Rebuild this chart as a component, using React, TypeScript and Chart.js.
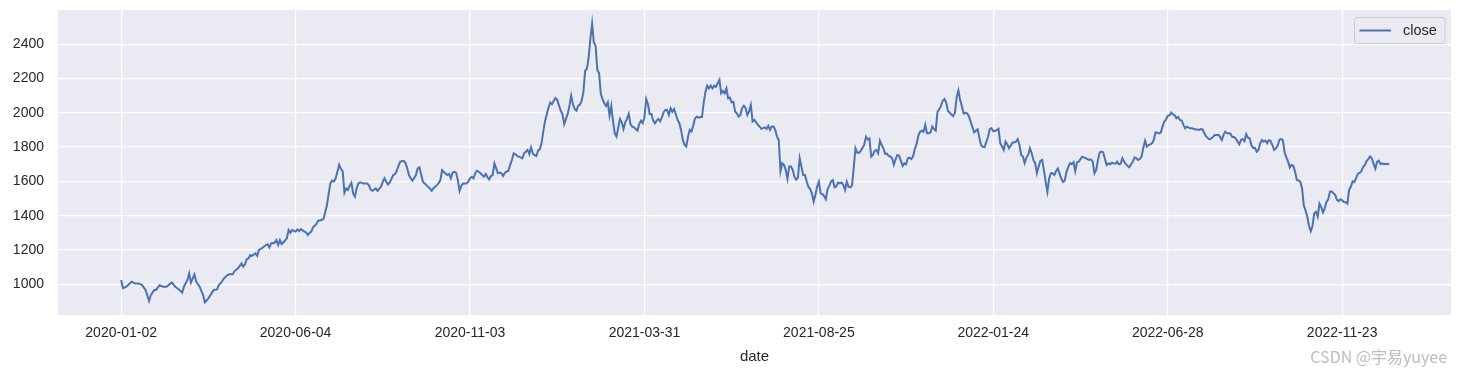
import React, { useEffect, useRef } from "react";
import { Chart, registerables } from "chart.js";

Chart.register(...registerables);

// Trading-day index (0 = 2020-01-02) and close price (early, sparse part)
const earlyDay = [
  0, 1, 3, 6, 8, 10, 12, 14, 16, 17, 19, 20, 22, 24, 26, 29, 31, 33, 35, 36,
  38, 39, 40, 42, 43, 45, 47, 48, 50, 52, 53, 55, 56, 57, 59, 61,
  62, 64, 65, 67, 69, 70, 71, 72, 73, 74, 75, 77, 78, 79, 81, 83, 84, 85, 86, 88,
  89, 90, 91, 92, 93, 95, 96, 97, 98, 100, 101, 102, 103, 105, 106, 107, 108, 109, 110, 112,
  113, 115, 116, 117, 118, 119, 120, 121, 122,
  123, 125, 126, 127, 128, 129, 130, 131, 132, 133, 134, 135, 136, 137, 139, 141, 142, 143, 144, 146,
  147, 149, 150, 151, 152, 153, 154, 156, 157, 158, 159, 160, 162, 163, 164, 165, 166, 167, 169, 170,
  171, 172, 173, 174, 175, 177, 178, 179, 181, 182, 183, 184, 185, 187,
  188, 189, 190, 191, 192, 193, 194, 195, 196, 198, 199, 200, 201, 202, 203, 204, 205, 206, 208, 209,
  210, 211, 212, 213, 214, 215, 216, 217, 218, 219, 220, 222, 223, 224, 225, 226, 227, 229, 230, 231,
  233, 234, 235, 236, 237, 238, 239, 240, 241, 242, 243, 244, 245, 246, 247, 248,
  249, 250, 252, 253, 254, 255, 256, 257, 258, 259, 260, 261, 262, 263, 264, 265, 266, 267, 268, 269,
  270, 271, 272, 273, 274, 275, 276, 277, 278, 279, 280, 281, 282, 283, 284, 285, 286, 287, 288, 289,
  290, 291, 292, 293, 294, 295, 296, 297, 298, 299, 300, 301, 302, 303, 304, 305, 306, 307, 308, 309,
  310, 311, 312, 313,
];
const earlyClose = [
  1025, 977, 986, 1015, 1005, 1005, 995, 967, 903, 937, 967, 967, 995, 986, 986, 1011, 986, 971, 951, 986,
  1025, 1064, 1010, 1058, 1016, 986, 937, 895, 918, 950, 967, 970, 995, 1005, 1035, 1054,
  1058, 1058, 1077, 1093, 1122, 1103, 1117, 1147, 1151, 1171, 1166, 1180, 1166, 1200, 1213, 1229, 1233, 1215, 1238, 1242,
  1258, 1229, 1258, 1235, 1244, 1268, 1316, 1301, 1316, 1307, 1320, 1310, 1322, 1307, 1303, 1287, 1299, 1307, 1332, 1352,
  1371, 1375, 1381, 1420, 1462, 1530, 1590, 1605, 1600,
  1618, 1697, 1672, 1660, 1534, 1559, 1550, 1575, 1592, 1530, 1511, 1559, 1588, 1594, 1588, 1588, 1578, 1553, 1545, 1559,
  1545, 1569, 1598, 1618, 1598, 1582, 1594, 1637, 1643, 1662, 1690, 1715, 1719, 1709, 1676, 1637, 1618, 1604, 1637, 1676,
  1682, 1640, 1598, 1588, 1578, 1559, 1545, 1559, 1578, 1590, 1607, 1666, 1655, 1637,
  1643, 1618, 1651, 1656, 1651, 1608, 1544, 1573, 1588, 1588, 1598, 1618, 1627, 1618, 1647, 1662, 1656, 1647, 1627, 1643,
  1625, 1612, 1631, 1637, 1705, 1676, 1647, 1651, 1647, 1631, 1651, 1662, 1695, 1724, 1763, 1759, 1748, 1740, 1734, 1763,
  1783, 1759, 1798, 1763, 1753, 1748, 1779, 1787, 1822, 1890, 1950, 1990, 2030, 2060, 2050, 2070,
  2085, 2075, 2012, 1993, 1934, 1964, 1993, 2040, 2100, 2050, 2022, 2012, 2041, 2047, 2071, 2119, 2245, 2255, 2320, 2430,
  2520, 2410, 2391, 2250, 2230, 2110, 2080, 2055, 2040, 2061, 1983, 2040, 1950, 1880, 1861, 1915, 1964, 1944, 1905, 1944,
  1964, 1993, 1934, 1919, 1915, 1905, 1896, 1934, 1954, 1940, 1973, 2080, 2051, 1993, 1993, 1954, 1938, 1954, 1964, 1950,
  1973, 2003, 2016, 2016,
];

// From trading day 314 on, one close reading per trading day
const lateStartDay = 314;
const lateClose = [
  1987, 2026, 2006, 2022, 1991, 1958, 1939, 1900, 1842, 1813, 1803, 1861, 1900, 1891, 1926, 1968, 1977, 1971, 1975, 1975,
  2060, 2123, 2158, 2142, 2158, 2142, 2158, 2150, 2172, 2192, 2113, 2127, 2113, 2142, 2084, 2088, 2061, 2063, 2006, 1997,
  1977, 1987, 2026, 2041, 2026, 1987, 2010, 2045, 1949, 1958, 1945, 1929, 1920, 1906, 1910, 1915, 1906, 1924, 1900, 1920,
  1920, 1900, 1861,
  1841, 1660, 1706, 1696, 1667, 1614, 1686, 1686, 1667, 1628, 1610, 1622, 1735, 1686, 1637, 1637, 1600, 1569, 1555, 1530,
  1482, 1521, 1569, 1598, 1530, 1526, 1515, 1496, 1555, 1575, 1600, 1608, 1565, 1570, 1593, 1588, 1593, 1580, 1550, 1598,
  1569, 1565, 1575, 1680, 1793, 1768, 1766, 1778, 1795, 1812, 1860, 1845, 1851, 1744, 1754, 1779, 1783, 1764, 1837, 1812,
  1793, 1760, 1762,
  1748, 1745, 1735, 1696, 1730, 1754, 1750, 1721, 1690, 1705, 1700, 1735, 1738, 1730, 1745, 1788, 1817, 1866, 1889, 1895,
  1889, 1930, 1880, 1880, 1885, 1920, 1905, 1896, 2005, 2020, 2040, 2070, 2080, 2060, 2010, 2000, 1990, 1980, 2001, 2090,
  2130, 2074, 2036, 1995, 2000, 1997, 1980, 1948, 1918, 1885, 1895, 1903, 1855, 1811, 1802, 1800, 1830, 1860, 1905, 1910,
  1892, 1893, 1899,
  1906, 1822, 1803, 1783, 1832, 1817, 1793, 1808, 1827, 1827, 1832, 1846, 1812, 1754, 1744, 1706, 1739, 1754, 1793, 1764,
  1725, 1706, 1647, 1686, 1719, 1725, 1667, 1598, 1540, 1615, 1647, 1647, 1637, 1660, 1675, 1645, 1615, 1597, 1605, 1657,
  1685, 1706, 1700, 1712, 1660, 1711, 1715, 1730, 1744, 1740, 1735, 1730, 1725, 1728, 1715, 1647, 1667, 1725, 1769, 1773,
  1769, 1730, 1695,
  1705, 1700, 1709, 1705, 1703, 1715, 1700, 1703, 1735, 1715, 1700, 1690, 1682, 1700, 1715, 1740, 1735, 1725, 1730, 1744,
  1795, 1837, 1803, 1812, 1816, 1822, 1841, 1886, 1884, 1880, 1884, 1919, 1948, 1960, 1982, 1985, 2001, 1990, 1985, 1968,
  1975, 1958, 1955, 1929, 1909, 1919, 1913, 1909, 1909, 1905, 1903, 1903, 1900, 1905, 1903, 1880, 1862, 1853, 1845, 1850,
  1860, 1870, 1870,
  1871, 1860, 1841, 1871, 1890, 1880, 1880, 1878, 1858, 1858, 1851, 1832, 1816, 1841, 1847, 1835, 1875, 1855, 1850, 1810,
  1795, 1796, 1773, 1783, 1822, 1841, 1832, 1838, 1822, 1841, 1835, 1812, 1783, 1793, 1808, 1841, 1847, 1840, 1770, 1740,
  1715, 1680, 1696, 1690, 1657, 1608, 1605, 1598, 1560, 1460, 1430, 1395, 1340, 1310, 1340, 1414, 1423, 1394, 1470, 1450,
  1419, 1443, 1480,
  1495, 1541, 1541, 1531, 1522, 1492, 1485, 1496, 1490, 1480, 1478, 1470, 1551, 1570, 1600, 1595, 1619, 1645, 1649, 1660,
  1684, 1694, 1718, 1730, 1746, 1735, 1703, 1674, 1713, 1720, 1700, 1705, 1700, 1702, 1700, 1703,
];

const xTickDays = [0, 100, 200, 300, 400, 500, 600, 700];
const xTickLabels = [
  "2020-01-02", "2020-06-04", "2020-11-03", "2021-03-31",
  "2021-08-25", "2022-01-24", "2022-06-28", "2022-11-23",
];
const yTickValues = [1000, 1200, 1400, 1600, 1800, 2000, 2200, 2400];
const seriesLabel = "close";
const xAxisTitle = "date";
const watermarkText = "CSDN @宇易yuyee";

const WIDTH = 1462;
const HEIGHT = 375;
const AXES_BG = "#EAEAF2";
const LINE_COLOR = "#4C72B0";
const TEXT_COLOR = "#262626";
const FONT = "'Liberation Sans', Arial, sans-serif";

export default function App() {
  const ref = useRef<HTMLCanvasElement | null>(null);

  useEffect(() => {
    document.body.style.margin = "0";
    const canvas = ref.current;
    if (!canvas) return;

    const points = [
      ...earlyDay.map((d, i) => ({ x: d, y: earlyClose[i] })),
      ...lateClose.map((v, i) => ({ x: lateStartDay + i, y: v })),
    ];

    const bgPlugin = {
      id: "axesBackground",
      beforeDraw(chart: any) {
        const { ctx, chartArea: a } = chart;
        ctx.save();
        ctx.fillStyle = "#ffffff";
        ctx.fillRect(0, 0, chart.width, chart.height);
        ctx.fillStyle = AXES_BG;
        ctx.fillRect(a.left, a.top, a.right - a.left, a.bottom - a.top);
        ctx.restore();
      },
    };

    const legendPlugin = {
      id: "mplLegend",
      afterDraw(chart: any) {
        const { ctx, chartArea: a } = chart;
        const w = 90.5;
        const h = 26;
        const left = a.right - 6 - w;
        const top = a.top + 7.5;
        ctx.save();
        ctx.beginPath();
        ctx.roundRect(left, top, w, h, 3);
        ctx.fillStyle = "rgba(234,234,242,0.8)";
        ctx.fill();
        ctx.strokeStyle = "#cccccc";
        ctx.lineWidth = 1;
        ctx.stroke();
        const cy = top + h / 2;
        ctx.beginPath();
        ctx.moveTo(left + 5, cy);
        ctx.lineTo(left + 36.5, cy);
        ctx.strokeStyle = LINE_COLOR;
        ctx.lineWidth = 2;
        ctx.stroke();
        ctx.fillStyle = TEXT_COLOR;
        ctx.font = `14.5px ${FONT}`;
        ctx.textBaseline = "middle";
        ctx.textAlign = "left";
        ctx.fillText(seriesLabel, left + 48.5, cy + 0.5);
        ctx.restore();
      },
    };

    const watermarkPlugin = {
      id: "watermark",
      afterDraw(chart: any) {
        const { ctx } = chart;
        ctx.save();
        ctx.fillStyle = "#bdbdbd";
        ctx.font = `16px 'Noto Sans CJK SC', ${FONT}`;
        ctx.textAlign = "right";
        ctx.textBaseline = "middle";
        ctx.fillText(watermarkText, chart.width - 15, 357);
        ctx.restore();
      },
    };

    const chart = new Chart(canvas, {
      type: "line",
      data: {
        datasets: [
          {
            label: seriesLabel,
            data: points,
            borderColor: LINE_COLOR,
            borderWidth: 2,
            pointRadius: 0,
            fill: false,
            tension: 0,
          },
        ],
      },
      options: {
        animation: false,
        responsive: false,
        devicePixelRatio: 1,
        layout: { padding: { left: 0, top: 10, right: 11, bottom: 0 } },
        plugins: {
          legend: { display: false },
          tooltip: { enabled: false },
        },
        scales: {
          x: {
            type: "linear",
            min: -36.2,
            max: 762.4,
            afterBuildTicks(scale: any) {
              scale.ticks = xTickDays.map((v) => ({ value: v }));
            },
            afterFit(scale: any) {
              scale.height = 60;
              scale.paddingLeft = 0;
              scale.paddingRight = 0;
            },
            ticks: {
              autoSkip: false,
              maxRotation: 0,
              padding: 10,
              color: TEXT_COLOR,
              font: { size: 14, family: FONT },
              callback: (v: any) => {
                const idx = xTickDays.indexOf(Number(v));
                return idx >= 0 ? xTickLabels[idx] : "";
              },
            },
            grid: { color: "#ffffff", lineWidth: 1.2, drawTicks: false },
            border: { display: false },
            title: {
              display: true,
              text: xAxisTitle,
              color: TEXT_COLOR,
              font: { size: 15, family: FONT },
              padding: { top: 0, bottom: 9 },
            },
          },
          y: {
            type: "linear",
            min: 821,
            max: 2599,
            afterBuildTicks(scale: any) {
              scale.ticks = yTickValues.map((v) => ({ value: v }));
            },
            afterFit(scale: any) {
              scale.width = 58;
              scale.paddingTop = 0;
              scale.paddingBottom = 0;
            },
            ticks: {
              padding: 14,
              color: TEXT_COLOR,
              font: { size: 14, family: FONT },
              callback: (v: any) => String(v),
            },
            grid: { color: "#ffffff", lineWidth: 1.2, drawTicks: false },
            border: { display: false },
          },
        },
      },
      plugins: [bgPlugin, legendPlugin, watermarkPlugin],
    });

    return () => chart.destroy();
  }, []);

  return <canvas ref={ref} width={WIDTH} height={HEIGHT} style={{ display: "block" }} />;
}
